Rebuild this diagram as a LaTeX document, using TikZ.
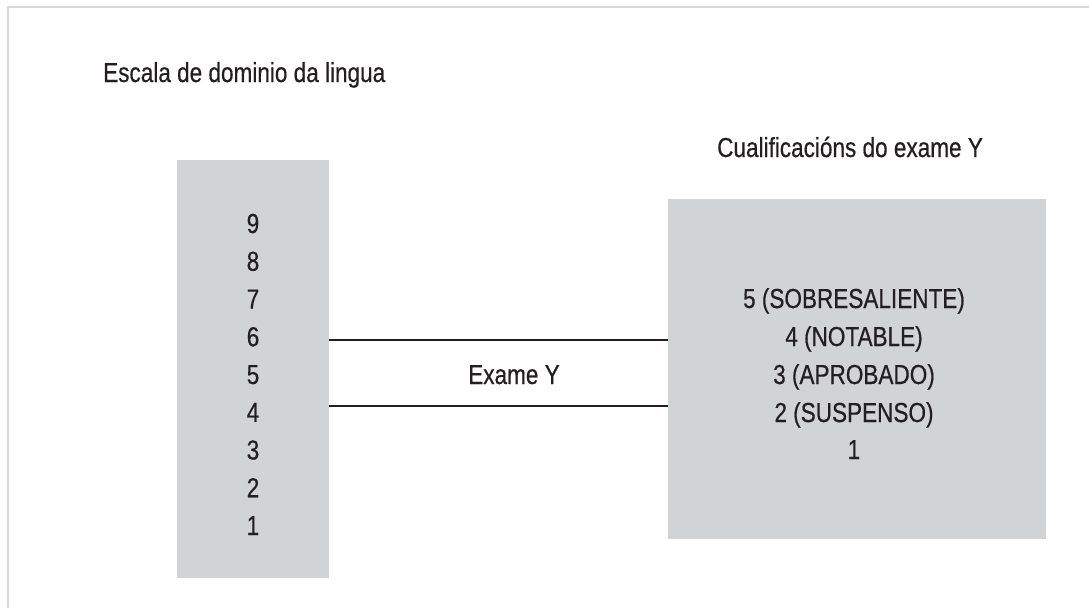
\documentclass[tikz,border=0pt]{standalone}
\usepackage{fontspec}
\setmainfont{Liberation Sans}[FakeStretch=0.82,FakeBold=0.5]
\definecolor{boxgray}{RGB}{209,211,212}
\definecolor{framegray}{RGB}{216,216,216}
\definecolor{ink}{RGB}{35,31,32}
\tikzset{
  lbl/.style={inner sep=0pt, text=ink, font=\fontsize{27.5}{37.75}\selectfont},
  panel/.style={fill=boxgray, draw=none, inner sep=0pt, anchor=north west},
  link/.style={draw=ink, line width=2.2pt},
  frame/.style={draw=framegray, line width=2.5pt}
}
\begin{document}
\begin{tikzpicture}[x=1pt,y=-1pt]
\useasboundingbox (0,0) rectangle (1089,608);
\fill[white] (0,0) rectangle (1089,608);
% frame (top and left only)
\draw[frame] (8,608) -- (8,7) -- (1089,7);
% titles
\node[lbl, anchor=base west] (title1) at (103,82) {Escala de dominio da lingua};
\node[lbl, anchor=base west] (title2) at (717,157) {Cualificacións do exame Y};
% panels
\node[panel, minimum width=152, minimum height=418] (lbox) at (177,160) {};
\node[panel, minimum width=378, minimum height=340] (rbox) at (668,199) {};
% left scale
\foreach \k in {1,...,9}{
  \node[lbl, anchor=base] (n\k) at (253,{535-37.75*(\k-1)}) {\k};
}
% right scale
\node[lbl, anchor=base] (g5) at (854,308) {5 (SOBRESALIENTE)};
\node[lbl, anchor=base] (g4) at (854,346) {4 (NOTABLE)};
\node[lbl, anchor=base] (g3) at (854,384) {3 (APROBADO)};
\node[lbl, anchor=base] (g2) at (854,422) {2 (SUSPENSO)};
\node[lbl, anchor=base] (g1) at (854,459) {1};
% connectors
\coordinate (top) at (0,340);
\coordinate (bot) at (0,406);
\draw[link] (lbox.east |- top) -- (rbox.west |- top);
\draw[link] (lbox.east |- bot) -- (rbox.west |- bot);
\node[lbl, anchor=base] (exam) at (514,384) {Exame Y};
\end{tikzpicture}
\end{document}
